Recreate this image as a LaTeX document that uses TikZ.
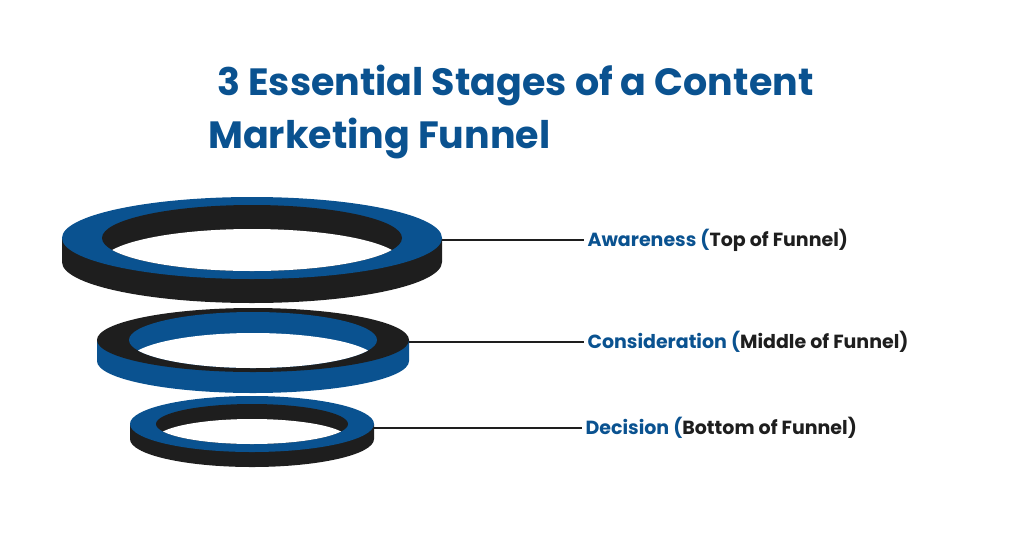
\documentclass[tikz,border=0pt]{standalone}
\usepackage{fontspec}
\setmainfont{Poppins}[BoldFont={* Bold}]
\definecolor{fblue}{HTML}{0A5290}
\definecolor{fblack}{HTML}{1E1E1E}
\newcommand{\ring}[9]{% cx cy rx ry t irx iry topcol sidecol
  \fill[#9] (#1-#3,#2) -- (#1-#3,#2+#5) arc[start angle=180,end angle=360,x radius=#3,y radius=-#4] -- (#1+#3,#2) -- cycle;
  \fill[#8] (#1,#2) ellipse[x radius=#3,y radius=#4];
  \fill[#9] (#1,#2) ellipse[x radius=#6,y radius=#7];
  \begin{scope}
    \clip (#1,#2) ellipse[x radius=#6,y radius=#7];
    \fill[white] (#1,#2+#5) ellipse[x radius=#6,y radius=#7];
  \end{scope}}
\begin{document}
\begin{tikzpicture}[x=1pt,y=-1pt,
  lbl/.style={anchor=west,font=\fontsize{19}{22}\selectfont\bfseries},
  ttl/.style={anchor=base west,font=\fontsize{38}{44}\selectfont\bfseries,text=fblue,inner sep=0},
  con/.style={line width=1.4pt,fblack}]
\useasboundingbox (0,0) rectangle (1024,536);
\ring{252}{238}{190}{41}{24}{150}{33}{fblue}{fblack}
\ring{253}{340}{156}{32}{21}{124}{28}{fblack}{fblue}
\ring{252}{424}{122}{28}{15}{96}{20}{fblue}{fblack}
\node[ttl] (t1) at (217,95) {3 Essential Stages of a Content};
\node[ttl] (t2) at (208,148) {Marketing Funnel};
\coordinate (r1) at (442,240);
\coordinate (r2) at (409,342);
\coordinate (r3) at (374,428);
\node[lbl] (l1) at (584,240) {\textcolor{fblue}{Awareness (}\textcolor{fblack}{Top of Funnel)}};
\node[lbl] (l2) at (584,342) {\textcolor{fblue}{Consideration (}\textcolor{fblack}{Middle of Funnel)}};
\node[lbl] (l3) at (582,428) {\textcolor{fblue}{Decision (}\textcolor{fblack}{Bottom of Funnel)}};
\draw[con] (r1) -- (l1.west);
\draw[con] (r2) -- (l2.west);
\draw[con] (r3) -- (l3.west);
\end{tikzpicture}
\end{document}
